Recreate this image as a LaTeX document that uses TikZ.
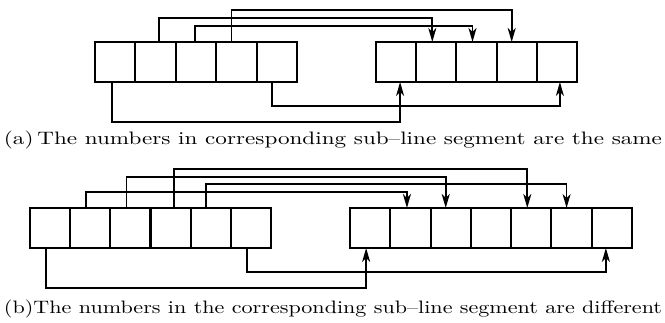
\documentclass[tikz,border=0pt]{standalone}
\usepackage{fontspec}
\usetikzlibrary{arrows.meta}
\begin{document}
\begin{tikzpicture}[x=1pt,y=-1pt,
  cell/.style={draw,line width=2pt,minimum height=40pt,inner sep=0pt,outer sep=0pt},
  cella/.style={cell,minimum width=40.4pt},
  cellb/.style={cell,minimum width=40.2pt},
  link/.style={line width=1.8pt},
  arr/.style={link,-{Stealth[length=14pt,width=8pt,inset=4pt]}},
  captext/.style={inner sep=0pt,anchor=center,font=\addfontfeatures{FakeBold=0.7}}]
\useasboundingbox (0,0) rectangle (665,323);
% (a) rows
\foreach \i in {1,...,5} {
  \node[cella] (la\i) at ({95+40.4*(\i-0.5)},62) {};
  \node[cella,minimum width=40.2pt] (ra\i) at ({376+40.2*(\i-0.5)},62) {};
}
% (a) top connectors
\draw[arr] ([xshift=-5pt]la4.north) |- ([xshift=-5pt,yshift=32pt]ra4.north) -- ([xshift=-5pt]ra4.north);
\draw[arr] ([xshift=3pt]la2.north) |- ([xshift=-4pt,yshift=24pt]ra2.north) -- ([xshift=-4pt]ra2.north);
\draw[arr] ([xshift=-1pt]la3.north) |- ([xshift=-4pt,yshift=16pt]ra3.north) -- ([xshift=-4pt]ra3.north);
% (a) bottom connectors
\draw[arr] ([xshift=-3pt]la1.south) |- ([xshift=4pt,yshift=-40pt]ra1.south) -- ([xshift=4pt]ra1.south);
\draw[arr] ([xshift=-5pt]la5.south) |- ([xshift=3pt,yshift=-24pt]ra5.south) -- ([xshift=3pt]ra5.south);
\node[captext] (capa) at (333,140) {\resizebox{658pt}{13.5pt}{(a)\,The numbers in corresponding sub--line segment are the same}};
% (b) rows
\foreach \i in {1,...,6} {
  \node[cellb] (lb\i) at ({30+40.17*(\i-0.5)},228) {};
}
\foreach \i in {1,...,7} {
  \node[cellb,minimum width=40.3pt] (rb\i) at ({350+40.29*(\i-0.5)},228) {};
}
% (b) top connectors
\draw[arr] ([xshift=3.5pt]lb4.north) |- ([xshift=-4pt,yshift=39pt]rb5.north) -- ([xshift=-4pt]rb5.north);
\draw[arr] ([xshift=-4pt]lb3.north) |- ([xshift=-5pt,yshift=31pt]rb3.north) -- ([xshift=-5pt]rb3.north);
\draw[arr] ([xshift=-4.5pt]lb5.north) |- ([xshift=-5pt,yshift=24pt]rb6.north) -- ([xshift=-5pt]rb6.north);
\draw[arr] ([xshift=-4pt]lb2.north) |- ([xshift=-3.5pt,yshift=16pt]rb2.north) -- ([xshift=-3.5pt]rb2.north);
% (b) bottom connectors
\draw[arr] ([xshift=-4pt]lb1.south) |- ([xshift=-4pt,yshift=-40pt]rb1.south) -- ([xshift=-4pt]rb1.south);
\draw[arr] ([xshift=-4pt]lb6.south) |- ([xshift=-6pt,yshift=-24pt]rb7.south) -- ([xshift=-6pt]rb7.south);
\node[captext] (capb) at (333,309) {\resizebox{658pt}{13.5pt}{(b)The numbers in the corresponding sub--line segment are different}};
\end{tikzpicture}
\end{document}
